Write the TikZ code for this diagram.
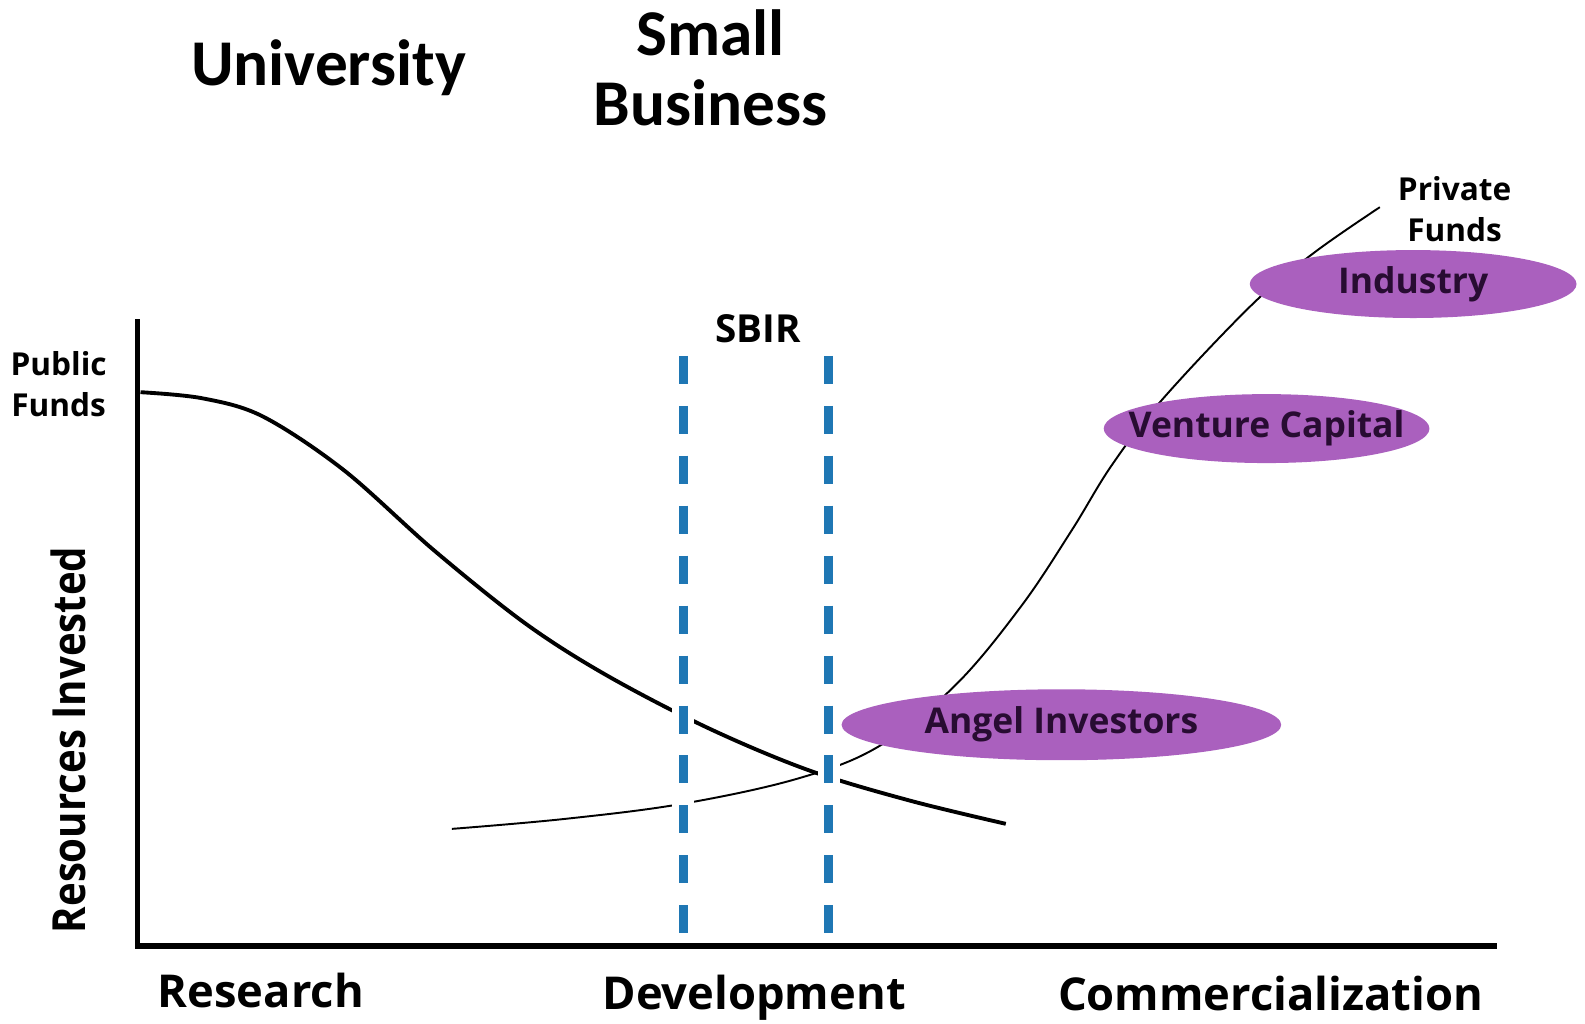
\documentclass[tikz,border=0pt]{standalone}
\usepackage{fontspec}
\setmainfont{Open Sans}
\newfontfamily\calfont{Carlito}
\usetikzlibrary{positioning, shapes.geometric}

\definecolor{investorfill}{RGB}{170,96,190}
\definecolor{investortext}{RGB}{40,12,50}
\definecolor{sbirblue}{RGB}{31,119,180}

\begin{document}
\begin{tikzpicture}[
    x=0.01011cm, y=-0.01011cm,
    heading/.style={font=\calfont\bfseries\fontsize{18.6}{20}\selectfont, align=center},
    phase/.style={font=\bfseries\fontsize{12.9}{16}\selectfont},
    funds/.style={font=\bfseries\fontsize{9}{11.5}\selectfont, align=center},
    investor/.style={ellipse, fill=investorfill, draw=none, inner sep=0pt,
                     label={[font=\bfseries\fontsize{10.1}{12}\selectfont, text=investortext]center:#1}},
    axis/.style={line width=1.6pt, line cap=rect},
    sbir/.style={line width=0.09cm, draw=sbirblue, dash pattern=on 0.28cm off 0.22cm},
    halo/.style={line width=0.22cm, white},
    public/.style={line width=1.1pt},
    private/.style={line width=0.55pt}
]
\useasboundingbox (0,0) rectangle (1568,1013);

% --- Titles ---
\node[heading] (univ) at (325,67) {University};
\node[heading] (small) at (703,67) {Small\\Business};

% --- Axes ---
\coordinate (origin) at (136,936);
\coordinate (ytop) at (136,318);
\coordinate (xend) at (1478,936);
\draw[axis] (ytop) -- (origin) -- (xend);

\node[font=\bfseries\fontsize{13}{15}\selectfont, rotate=90] (resources) at (68,732)
    {\scalebox{0.88}[1]{Resources Invested}};
\node[phase] (research) at (258,980) {Research};
\node[phase] (development) at (746,987) {Development};
\node[phase] (commercial) at (1257,983) {Commercialization};

\node[funds] (public) at (58,380) {Public\\Funds};
\node[funds] (private) at (1439,207) {Private\\Funds};

% --- Curves ---
\draw[public] plot[smooth, tension=0.55] coordinates {(139,388) (200,394) (260,412) (340,465)
    (430,545) (520,617) (600,668) (700,720) (800,762) (900,792) (995,815)};
\draw[private] plot[smooth, tension=0.6] coordinates {(447,820) (560,810) (676,795) (790,770)
    (870,738) (945,678) (1010,600) (1060,525) (1100,460) (1150,395) (1240,300) (1300,250) (1365,205)};

% --- SBIR band ---
\coordinate (sbirleft) at (676,352);
\coordinate (sbirleftend) at (676,930);
\coordinate (sbirright) at (820,352);
\coordinate (sbirrightend) at (820,930);
\draw[halo] (sbirleft) -- (sbirleftend);
\draw[halo] (sbirright) -- (sbirrightend);
\draw[sbir] (sbirleft) -- (sbirleftend);
\draw[sbir] (sbirright) -- (sbirrightend);
\node[font=\bfseries\fontsize{11}{13}\selectfont] (sbir) at (750,325) {SBIR};

% --- Investors ---
\node[investor=Industry, minimum width=3.27cm, minimum height=0.68cm] (industry) at (1398,281) {};
\node[investor=Venture Capital, minimum width=3.26cm, minimum height=0.69cm] (venture) at (1253,424) {};
\node[investor=Angel Investors, minimum width=4.4cm, minimum height=0.71cm] (angel) at (1050,717) {};

\end{tikzpicture}
\end{document}
